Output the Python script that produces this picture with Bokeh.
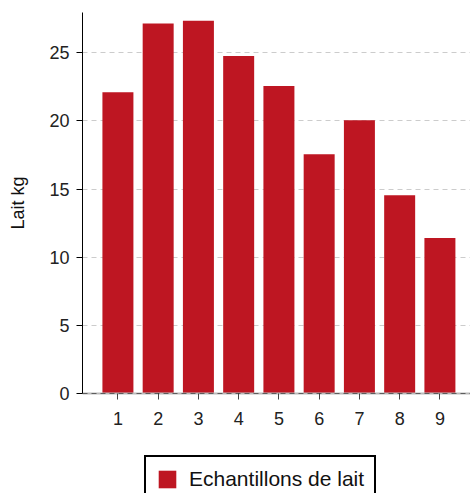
from bokeh.plotting import figure
from bokeh.layouts import column
from bokeh.models import ColumnDataSource, FixedTicker, Range1d, Legend, LegendItem, Span
from bokeh.embed import file_html
from bokeh.resources import INLINE

samples = [1, 2, 3, 4, 5, 6, 7, 8, 9]
milk_kg = [22.1, 27.15, 27.35, 24.75, 22.55, 17.55, 20.05, 14.55, 11.4]
y_ticks = [0, 5, 10, 15, 20, 25]
series_name = "Echantillons de lait"
y_label = "Lait kg"

FONT = "Liberation Sans"
RED = "#be1622"

src = ColumnDataSource(data=dict(x=samples, y=milk_kg))

p = figure(width=470, height=440, output_backend="svg", toolbar_location=None,
           x_range=Range1d(0.12, 9.76), y_range=Range1d(0, 27.95),
           min_border_left=82, min_border_right=0, min_border_top=12, min_border_bottom=47)
p.outline_line_color = None
p.background_fill_color = "white"

r = p.vbar(x="x", top="y", width=0.77, source=src, color=RED, line_color=None)

p.xgrid.grid_line_color = None
p.ygrid.grid_line_color = "#cccccc"
p.ygrid.grid_line_dash = "5 4"
p.ygrid.grid_line_width = 1.2
p.ygrid.ticker = FixedTicker(ticks=y_ticks)

p.yaxis.ticker = FixedTicker(ticks=y_ticks)
p.xaxis.ticker = FixedTicker(ticks=samples)
p.yaxis.minor_tick_line_color = None
p.xaxis.minor_tick_line_color = None
p.yaxis.major_tick_in = 0
p.yaxis.major_tick_out = 6
p.xaxis.major_tick_in = 0
p.xaxis.major_tick_out = 6
p.yaxis.axis_line_color = "black"
p.yaxis.major_tick_line_color = "black"
p.xaxis.axis_line_color = "#bbbbbb"
p.xaxis.axis_line_width = 2
p.xaxis.major_tick_line_color = "#444444"
for ax in (p.xaxis, p.yaxis):
    ax.major_label_text_font = FONT
    ax.major_label_text_font_size = "18px"
    ax.major_label_text_color = "#222222"
p.xaxis.major_label_standoff = 12
p.yaxis.major_label_standoff = 7
p.yaxis.axis_label = y_label
p.yaxis.axis_label_text_font = FONT
p.yaxis.axis_label_text_font_size = "18px"
p.yaxis.axis_label_text_font_style = "normal"
p.yaxis.axis_label_text_color = "#111111"
p.yaxis.axis_label_standoff = 18

zero = Span(location=0, dimension="width", line_color="black", line_dash="5 4", line_width=1)
p.add_layout(zero)

# legend panel (frame aligned with the chart frame by the column layout)
q = figure(width=470, height=53, output_backend="svg", toolbar_location=None,
           x_range=Range1d(0, 1), y_range=Range1d(0, 1),
           min_border_left=0, min_border_right=0, min_border_top=0, min_border_bottom=0)
q.outline_line_color = None
q.axis.visible = False
q.grid.grid_line_color = None
rq = q.vbar(x=[0.5], top=[-2], bottom=[-3], width=0.1, color=RED, line_color=None)

legend = Legend(items=[LegendItem(label=series_name, renderers=[rq])],
                location=(62, -10), orientation="horizontal")
legend.label_text_font = FONT
legend.label_text_font_size = "21px"
legend.label_text_color = "#111111"
legend.border_line_color = "black"
legend.border_line_width = 2
legend.border_line_alpha = 1
legend.glyph_width = 22
legend.glyph_height = 22
legend.padding = 10
legend.margin = 0
legend.spacing = 0
legend.label_standoff = 11
q.add_layout(legend)

layout = column(p, q, spacing=0)
open("out.html", "w").write(file_html(layout, INLINE))
